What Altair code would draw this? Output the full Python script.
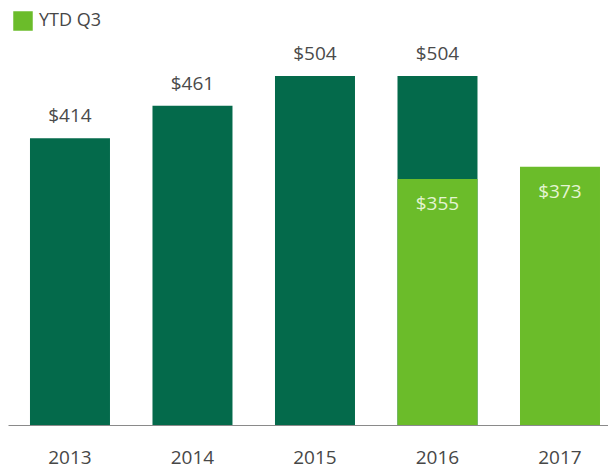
import altair as alt
import pandas as pd

years = ["2013", "2014", "2015", "2016", "2017"]
full_year = [414, 461, 504, 504, None]
ytd_q3 = [None, None, None, 355, 373]

DARK = "#046A4B"
LIGHT = "#6BBC2A"
FONT = "Open Sans"

full_df = pd.DataFrame({"year": years, "value": full_year}).dropna()
full_df["label"] = full_df["value"].map(lambda v: f"${int(v)}")
ytd_df = pd.DataFrame({"year": years, "value": ytd_q3}).dropna()
ytd_df["label"] = ytd_df["value"].map(lambda v: f"${int(v)}")
ytd_df["series"] = "YTD Q3"

xenc = alt.X(
    "year:N",
    sort=years,
    scale=alt.Scale(domain=years, paddingInner=0.347, paddingOuter=0.1224, align=0.733),
    axis=alt.Axis(
        title=None,
        labelAngle=0,
        labelFontSize=19,
        labelFont=FONT,
        labelColor="#474747",
        labelPadding=23,
        ticks=False,
        domainColor="#8a8a8a",
        domainWidth=1,
        grid=False,
    ),
)
yscale = alt.Scale(domain=[0, 602], nice=False)

dark_bars = alt.Chart(full_df).mark_bar(color=DARK).encode(
    x=xenc,
    y=alt.Y("value:Q", scale=yscale, axis=None),
)
light_bars = alt.Chart(ytd_df).mark_bar().encode(
    x=xenc,
    y=alt.Y("value:Q", scale=yscale, axis=None),
    color=alt.Color(
        "series:N",
        scale=alt.Scale(domain=["YTD Q3"], range=[LIGHT]),
        legend=alt.Legend(
            title=None,
            orient="none",
            legendX=5,
            legendY=3,
            symbolType="square",
            symbolSize=380,
            symbolStrokeWidth=0,
            labelFontSize=18,
            labelFont=FONT,
            labelColor="#474747",
            labelOffset=6,
            padding=0,
        ),
    ),
)
dark_labels = alt.Chart(full_df).mark_text(
    dy=-22, fontSize=19, font=FONT, color="#4a4a4a", baseline="middle"
).encode(
    x=xenc,
    y=alt.Y("value:Q", scale=yscale),
    text="label:N",
)
light_labels = alt.Chart(ytd_df).mark_text(
    dy=25, fontSize=19, font=FONT, color="#E4F4D2", baseline="middle"
).encode(
    x=xenc,
    y=alt.Y("value:Q", scale=yscale),
    text="label:N",
)

chart = alt.layer(dark_bars, light_bars, dark_labels, light_labels).properties(
    width=600,
    height=417,
    autosize=alt.AutoSizeParams(type="none"),
    padding={"left": 0, "top": 0, "right": 0, "bottom": 52},
).configure_view(stroke=None)

chart.save("out.html", embed_options={"renderer": "svg", "actions": False})
